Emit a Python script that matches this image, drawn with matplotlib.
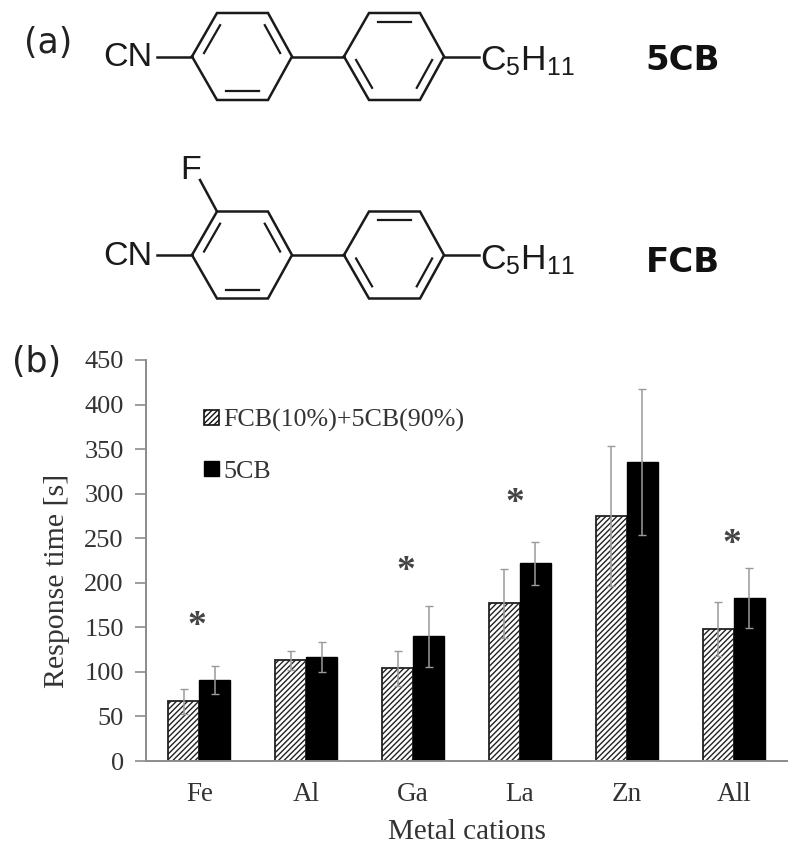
import matplotlib
matplotlib.use("Agg")
import matplotlib.pyplot as plt
from matplotlib.patches import Patch
import numpy as np

plt.rcParams['hatch.linewidth'] = 1.0
plt.rcParams['mathtext.default'] = 'regular'

W, H = 800, 856

# chart values
cations = ['Fe', 'Al', 'Ga', 'La', 'Zn', 'All']
mix_values = [67, 113, 104, 177, 275, 148]
mix_errors = [14, 11, 20, 39, 79, 30]
pure_values = [91, 117, 140, 222, 336, 183]
pure_errors = [16, 17, 34, 24, 82, 34]
star_groups = [-0.02, 1.93, 2.95, 4.98]
star_heights = [151, 213, 289, 243]
y_ticks = [0, 50, 100, 150, 200, 250, 300, 350, 400, 450]

# ring outlines, in pixels of the picture
ring_x = [192, 217, 268, 292, 268, 217]
ring_y = [0, -43.5, -43.5, 0, 43.5, 43.5]
ring_shift = 152
top_row = 56.5
bottom_row = 255

ink = '#1a1a1a'
grey = '#8c8c8c'
text_color = '#333333'
serif = 'Liberation Serif'
sans = 'Liberation Sans'

fig = plt.figure(figsize=(W / 100, H / 100), dpi=100)

"""
Structures on top
"""
top = fig.add_axes([0, 0, 1, 1])
top.set_xlim(0, W)
top.set_ylim(H, 0)
top.axis('off')


def draw_ring(dx, cy, inner):
    xs = np.array(ring_x) + dx
    ys = np.array(ring_y) + cy
    top.plot(np.append(xs, xs[0]), np.append(ys, ys[0]), color=ink, lw=1.8, solid_joinstyle='miter')
    mid_x = xs.mean()
    for i in inner:
        j = (i + 1) % 6
        # double bond line, pulled towards the middle of the ring
        x0 = xs[i] + (mid_x - xs[i]) * 0.2 + (xs[j] - xs[i]) * 0.08
        x1 = xs[j] + (mid_x - xs[j]) * 0.2 - (xs[j] - xs[i]) * 0.08
        y0 = ys[i] + (cy - ys[i]) * 0.2 + (ys[j] - ys[i]) * 0.08
        y1 = ys[j] + (cy - ys[j]) * 0.2 - (ys[j] - ys[i]) * 0.08
        top.plot([x0, x1], [y0, y1], color=ink, lw=1.6)


def draw_molecule(cy, name, name_y):
    draw_ring(0, cy, [0, 2, 4])
    draw_ring(ring_shift, cy, [1, 3, 5])
    top.plot([ring_x[3], ring_x[0] + ring_shift], [cy, cy], color=ink, lw=1.8)
    top.plot([157, ring_x[0]], [cy, cy], color=ink, lw=1.8)
    top.plot([ring_x[3] + ring_shift, 479], [cy, cy], color=ink, lw=1.8)
    top.text(128, cy + 1, 'CN', family=sans, fontsize=24.5, color=ink, ha='center', va='center')
    top.text(480, cy + 5, 'C$_5$H$_{11}$', family=sans, fontsize=25.5, color=ink, ha='left', va='center')
    top.text(683, name_y, name, family='DejaVu Sans', fontweight='bold', fontsize=24.5, color='#111111',
             ha='center', va='center')


draw_molecule(top_row, '5CB', 60)
draw_molecule(bottom_row, 'FCB', 262)
top.plot([200, ring_x[1]], [180, bottom_row - 43.5], color=ink, lw=1.8)
top.text(191, 170, 'F', family=sans, fontsize=24.5, color=ink, ha='center', va='center')
top.text(48, 43, '(a)', family='DejaVu Sans', fontsize=25, color='#222222', ha='center', va='center')
top.text(37, 362, '(b)', family='DejaVu Sans', fontsize=25, color='#222222', ha='center', va='center')

"""
Bar chart
"""
ax = fig.add_axes([146 / W, 1 - 761 / H, 641 / W, 401 / H])
ax.patch.set_alpha(0)
pos = np.arange(len(cations))
bar_w = 0.29
err_style = dict(ecolor='#9a9a9a', elinewidth=1.1, capsize=3, capthick=1.0)

ax.bar(pos - bar_w / 2, mix_values, bar_w, color='white', edgecolor='#222222', hatch='//////', linewidth=1.3,
       yerr=mix_errors, error_kw=err_style)
ax.bar(pos + bar_w / 2, pure_values, bar_w, color='black', edgecolor='black', linewidth=1.0,
       yerr=pure_errors, error_kw=err_style)

for g, h in zip(star_groups, star_heights):
    ax.text(g, h, '*', family=serif, fontsize=27, fontweight='bold', color='#444444', ha='center', va='center')

ax.set_xlim(-0.5, len(cations) - 0.5)
ax.set_ylim(0, 450)
ax.set_yticks(y_ticks)
ax.set_xticks(pos)
ax.set_xticklabels(cations, family=serif, fontsize=19.5, color=text_color)
for label in ax.get_yticklabels():
    label.set_family(serif)
    label.set_fontsize(19)
    label.set_color(text_color)
ax.tick_params(axis='x', length=0, pad=15)
ax.tick_params(axis='y', length=8, width=1.2, color=grey, pad=8)
ax.spines['top'].set_visible(False)
ax.spines['right'].set_visible(False)
ax.spines['left'].set_color(grey)
ax.spines['bottom'].set_color(grey)
ax.spines['left'].set_linewidth(1.4)
ax.spines['bottom'].set_linewidth(1.4)
ax.set_xlabel('Metal cations', family=serif, fontsize=21, color=text_color, labelpad=9)
ax.set_ylabel('Response time [s]', family=serif, fontsize=21.5, color=text_color, labelpad=10, y=0.45)

handles = [Patch(facecolor='white', edgecolor='#111111', hatch='//////', linewidth=1.2),
           Patch(facecolor='black', edgecolor='black')]
ax.legend(handles, ['FCB(10%)+5CB(90%)', '5CB'], loc='upper left', bbox_to_anchor=(58 / 641, 1 - 49 / 401),
          frameon=False, prop={'family': serif, 'size': 18.7}, labelcolor=text_color, handlelength=0.56,
          handleheight=0.56, handletextpad=0.2, labelspacing=1.1, borderaxespad=0, borderpad=0)

plt.savefig('out.png', dpi=100)
